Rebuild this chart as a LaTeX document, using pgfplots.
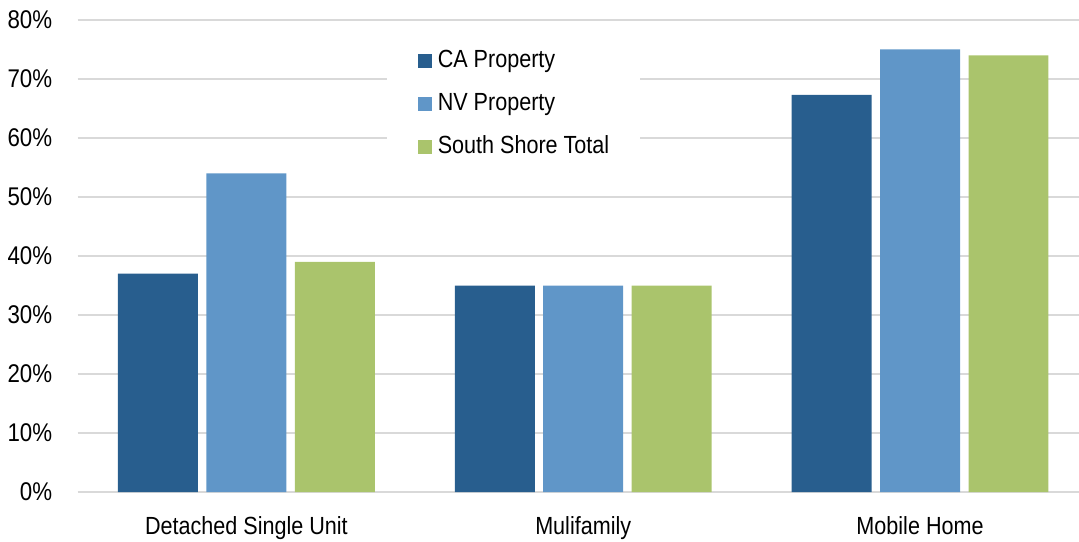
\documentclass[border=0pt]{standalone}
\usepackage{pgfplots}
\pgfplotsset{compat=1.18}
\usepackage{fontspec}
\setmainfont{Liberation Sans}[FakeStretch=0.87]
\definecolor{caC}{RGB}{40,94,142}
\definecolor{nvC}{RGB}{96,150,200}
\definecolor{ssC}{RGB}{170,196,108}
\definecolor{gridC}{RGB}{217,217,217}
\begin{document}
\fontsize{12.4}{14}\selectfont
\begin{tikzpicture}
\begin{axis}[
  name=ax,
  scale only axis,
  width=500.75pt, height=236pt,
  xmin=-0.5015, xmax=2.472,
  ymin=0, ymax=80,
  ytick={0,10,...,80},
  yticklabels={0\%,10\%,20\%,30\%,40\%,50\%,60\%,70\%,80\%},
  xtick={0,1,2},
  xticklabels={Detached Single Unit,Mulifamily,Mobile Home},
  axis line style={draw=none},
  major tick length=0pt,
  ymajorgrids,
  grid style={gridC, line width=1pt},
  yticklabel style={inner sep=0pt, xshift=-12.5pt, font=\fontsize{12.8}{14}\selectfont},
  xticklabel style={inner sep=0pt, yshift=-12pt, font=\fontsize{12.4}{14}\selectfont},
  ybar, bar width=0.2374,
  legend style={draw=none, fill=white, at={(rel axis cs:0.3084,0.964)}, anchor=north west,
    inner xsep=15.5pt, inner ysep=6pt, row sep=9.5pt,
    nodes={inner sep=0pt, text height=9pt, text depth=3pt},
    /tikz/every odd column/.append style={column sep=3pt},
    font=\fontsize{12.4}{14}\selectfont},
  legend cell align=left,
  legend image code/.code={\fill[#1] (0pt,-3.5pt) rectangle (7pt,3.5pt);},
]
\addplot[fill=caC, draw=none, bar shift=-0.2626] coordinates {(0,37) (1,35) (2,67.3)};
\addplot[fill=nvC, draw=none, bar shift=0] coordinates {(0,54) (1,35) (2,75)};
\addplot[fill=ssC, draw=none, bar shift=0.2626] coordinates {(0,39) (1,35) (2,74)};
\legend{CA Property,NV Property,South Shore Total}
\end{axis}
\pgfresetboundingbox
\path ([shift={(-38.75pt,-24.5pt)}]ax.south west) rectangle ([shift={(0pt,10pt)}]ax.north east);
\end{tikzpicture}
\end{document}
